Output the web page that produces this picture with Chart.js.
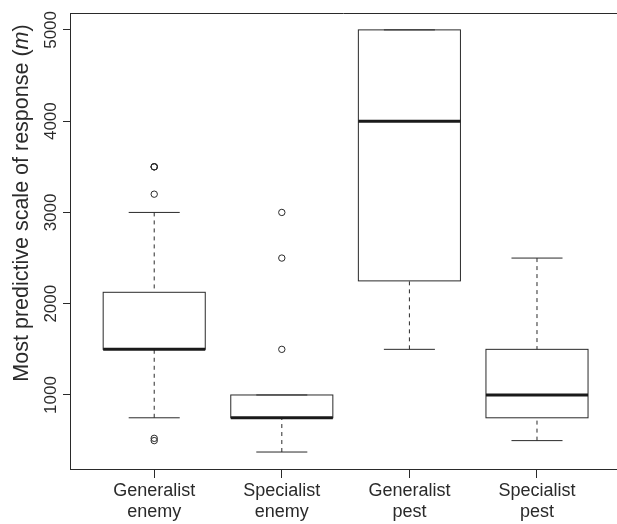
<!DOCTYPE html>
<html lang="en">
<head>
  <meta charset="UTF-8">
  <title>Most predictive scale of response</title>
  <script src="https://cdn.jsdelivr.net/npm/chart.js"></script>
  <style>
    html, body {
      margin: 0;
      padding: 0;
      background: #ffffff;
      overflow: hidden;
    }
    #box-chart {
      display: block;
    }
  </style>
</head>
<body>
  <canvas id="box-chart" width="617" height="524"></canvas>

  <script>
    // Box plot statistics, one entry per group
    const categories = [['Generalist', 'enemy'], ['Specialist', 'enemy'], ['Generalist', 'pest'], ['Specialist', 'pest']];
    const lowerWhisker = [750, 375, 1500, 500];
    const lowerQuartile = [1500, 750, 2250, 750];
    const medians = [1500, 750, 4000, 1000];
    const upperQuartile = [2125, 1000, 5000, 1500];
    const upperWhisker = [3000, 1000, 5000, 2500];
    const outliers = [[3500, 3500, 3500, 3200, 525, 500], [3000, 2500, 1500], [], []];
    const yTicks = [1000, 2000, 3000, 4000, 5000];

    const FONT = "'Liberation Sans', Arial, Helvetica, sans-serif";
    const INK = '#2a2a2a';

    Chart.defaults.font.family = FONT;
    Chart.defaults.color = INK;

    // scatter points for the outliers
    const outlierPoints = [];
    outliers.forEach((list, i) => {
      list.forEach(v => outlierPoints.push({ x: i + 1, y: v }));
    });

    // draws boxes, whiskers, frame top, rotated y labels and title
    const boxPlugin = {
      id: 'boxPlugin',
      beforeDatasetsDraw(chart) {
        const { ctx, chartArea, scales } = chart;
        const xs = scales.x, ys = scales.y;
        const unit = xs.getPixelForValue(1) - xs.getPixelForValue(0);
        const half = unit * 0.4;
        const cap = unit * 0.2;

        ctx.save();
        ctx.strokeStyle = INK;

        // top edge of the frame
        ctx.lineWidth = 1;
        ctx.beginPath();
        ctx.moveTo(chartArea.left, Math.round(chartArea.top) + 0.5);
        ctx.lineTo(chart.width, Math.round(chartArea.top) + 0.5);
        ctx.stroke();

        categories.forEach((c, i) => {
          const cx = xs.getPixelForValue(i + 1);
          const yLo = ys.getPixelForValue(lowerWhisker[i]);
          const yQ1 = ys.getPixelForValue(lowerQuartile[i]);
          const yMed = ys.getPixelForValue(medians[i]);
          const yQ3 = ys.getPixelForValue(upperQuartile[i]);
          const yHi = ys.getPixelForValue(upperWhisker[i]);

          // whiskers (dashed)
          ctx.lineWidth = 1;
          ctx.setLineDash([4, 4]);
          ctx.beginPath();
          if (yHi < yQ3) { ctx.moveTo(cx, yHi); ctx.lineTo(cx, yQ3); }
          if (yLo > yQ1) { ctx.moveTo(cx, yLo); ctx.lineTo(cx, yQ1); }
          ctx.stroke();
          ctx.setLineDash([]);

          // whisker caps
          ctx.beginPath();
          ctx.moveTo(cx - cap, yHi); ctx.lineTo(cx + cap, yHi);
          ctx.moveTo(cx - cap, yLo); ctx.lineTo(cx + cap, yLo);
          ctx.stroke();

          // box
          ctx.strokeRect(cx - half, yQ3, half * 2, yQ1 - yQ3);

          // median
          ctx.lineWidth = 3;
          ctx.strokeStyle = '#1a1a1a';
          ctx.beginPath();
          ctx.moveTo(cx - half, yMed);
          ctx.lineTo(cx + half, yMed);
          ctx.stroke();
          ctx.strokeStyle = INK;
        });

        // y tick labels, rotated like base R
        ctx.fillStyle = INK;
        ctx.font = '17px ' + FONT;
        ctx.textAlign = 'center';
        ctx.textBaseline = 'alphabetic';
        yTicks.forEach(v => {
          const py = ys.getPixelForValue(v);
          ctx.save();
          ctx.translate(56, py);
          ctx.rotate(-Math.PI / 2);
          ctx.fillText(String(v), 0, 0);
          ctx.restore();
        });

        // y axis title with italic m
        const parts = [
          { t: 'Most predictive scale of response (', f: '21.5px ' + FONT },
          { t: 'm', f: 'italic 21.5px ' + FONT },
          { t: ')', f: '21.5px ' + FONT }
        ];
        let total = 0;
        parts.forEach(p => { ctx.font = p.f; p.w = ctx.measureText(p.t).width; total += p.w; });
        ctx.save();
        ctx.translate(28, 203);
        ctx.rotate(-Math.PI / 2);
        ctx.textAlign = 'left';
        let px = -total / 2;
        parts.forEach(p => {
          ctx.font = p.f;
          ctx.fillText(p.t, px, 0);
          px += p.w;
        });
        ctx.restore();

        ctx.restore();
      }
    };

    const ctx = document.getElementById('box-chart').getContext('2d');
    const chart = new Chart(ctx, {
      type: 'scatter',
      data: {
        datasets: [{
          label: 'Outliers',
          data: outlierPoints,
          pointStyle: 'circle',
          pointRadius: 3.2,
          pointHoverRadius: 3.2,
          pointBorderWidth: 1,
          borderColor: INK,
          backgroundColor: 'rgba(0,0,0,0)',
          clip: false
        }]
      },
      options: {
        responsive: false,
        animation: false,
        events: [],
        layout: { autoPadding: false, padding: { top: 13, right: 0, bottom: 0, left: 0 } },
        plugins: {
          legend: { display: false },
          tooltip: { enabled: false }
        },
        scales: {
          x: {
            type: 'linear',
            min: 0.34,
            max: 4.627,
            afterBuildTicks: (axis) => {
              axis.ticks = categories.map((c, i) => ({ value: i + 1 }));
            },
            afterFit: (axis) => {
              axis.height = 55;
              axis.paddingLeft = 0;
              axis.paddingRight = 0;
            },
            border: { display: true, color: INK, width: 1 },
            grid: { drawOnChartArea: false, drawTicks: true, tickLength: 9, color: INK },
            ticks: {
              autoSkip: false,
              maxRotation: 0,
              padding: 2,
              color: INK,
              font: { size: 18, lineHeight: 1.2 },
              callback: (v) => categories[Math.round(v) - 1] || ''
            }
          },
          y: {
            type: 'linear',
            min: 189,
            max: 5185,
            afterBuildTicks: (axis) => {
              axis.ticks = yTicks.map(v => ({ value: v }));
            },
            afterFit: (axis) => {
              axis.width = 70;
              axis.paddingTop = 0;
              axis.paddingBottom = 0;
            },
            border: { display: true, color: INK, width: 1 },
            grid: { drawOnChartArea: false, drawTicks: true, tickLength: 7, color: INK },
            ticks: { display: false }
          }
        }
      },
      plugins: [boxPlugin]
    });
  </script>
</body>
</html>
